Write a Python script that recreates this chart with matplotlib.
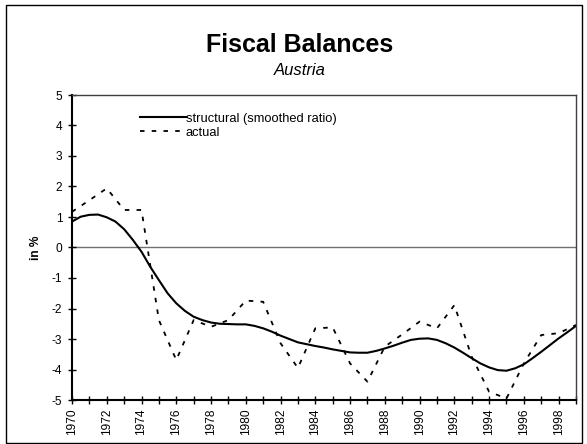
import numpy as np
import matplotlib.pyplot as plt
from matplotlib.patches import Rectangle

plt.rcParams['font.family'] = ['Liberation Sans', 'DejaVu Sans']
plt.rcParams['axes.unicode_minus'] = False

years = list(range(1970, 2000))

struct_years = [1970 + 0.5 * i for i in range(59)]
structural = [0.85, 1.01, 1.07, 1.08, 0.99, 0.85, 0.60, 0.25, -0.14, -0.63,
              -1.07, -1.50, -1.83, -2.08, -2.27, -2.38, -2.46, -2.50, -2.51, -2.52,
              -2.52, -2.57, -2.65, -2.76, -2.89, -3.00, -3.11, -3.17, -3.23, -3.28,
              -3.34, -3.39, -3.44, -3.45, -3.45, -3.39, -3.31, -3.22, -3.12, -3.03,
              -2.99, -2.98, -3.03, -3.14, -3.28, -3.45, -3.63, -3.80, -3.93, -4.02,
              -4.04, -3.96, -3.83, -3.63, -3.42, -3.20, -2.98, -2.78, -2.57]

actual = [1.17, 1.55, 1.94, 1.23, 1.23, -2.38, -3.69, -2.38, -2.60, -2.38,
          -1.74, -1.78, -3.14, -3.95, -2.65, -2.62, -3.80, -4.40, -3.25, -2.85,
          -2.43, -2.65, -1.89, -3.58, -4.73, -4.95, -3.80, -2.87, -2.81, -2.54]

fig = plt.figure(figsize=(5.87, 4.44), dpi=100)
fig.patches.append(Rectangle((6 / 587, 1 / 444), 576 / 587, 438 / 444,
                             transform=fig.transFigure, fill=False,
                             edgecolor='black', linewidth=1.0))

ax = fig.add_axes([72 / 587, 1 - 400 / 444, 504 / 587, 305 / 444])

ax.axhline(0, color='#707070', linewidth=1.0, zorder=1)
ax.plot(struct_years, structural, color='black', linewidth=1.5, label='structural (smoothed ratio)')
ax.plot(years, actual, color='black', linewidth=1.3, linestyle=(0, (2.5, 4)), label='actual')

ax.set_xlim(1970, 1999)
ax.set_ylim(-5, 5)
ax.set_yticks(range(-5, 6))
ax.set_xticks(years, minor=True)
ax.set_xticks(range(1970, 2000, 2))
ax.set_xticklabels([str(y) for y in range(1970, 2000, 2)], rotation=90)

ax.tick_params(axis='both', which='both', direction='inout', length=6, width=1.0,
               labelsize=8.6, colors='black')
ax.tick_params(axis='y', pad=4)
ax.tick_params(axis='x', pad=3)

for side in ['left', 'bottom']:
    ax.spines[side].set_linewidth(1.5)
for side in ['top', 'right']:
    ax.spines[side].set_linewidth(1.0)
    ax.spines[side].set_color('#404040')

ax.set_ylabel('in %', fontsize=8.6, fontweight='bold', labelpad=7)

ax.legend(loc='upper left', bbox_to_anchor=(0.135, 0.942), frameon=False, fontsize=9.3,
          handlelength=3.55, handletextpad=0.0, labelspacing=0.16, borderaxespad=0,
          borderpad=0)

fig.text(299.5 / 587, 1 - 52.3 / 444, 'Fiscal Balances', ha='center', va='baseline',
         fontsize=18, fontweight='bold')
fig.text(299.5 / 587, 1 - 75 / 444, 'Austria', ha='center', va='baseline',
         fontsize=12, style='italic')

plt.savefig('out.png', dpi=100)
